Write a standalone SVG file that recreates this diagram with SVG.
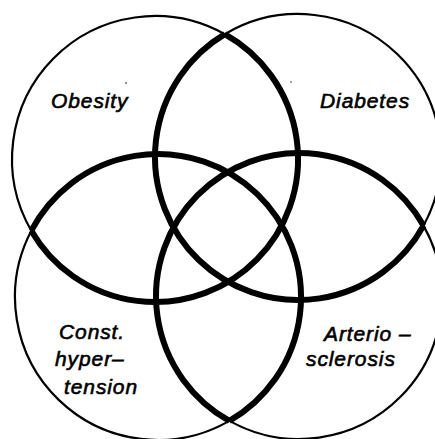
<svg xmlns="http://www.w3.org/2000/svg" width="435" height="439" viewBox="0 0 435 439">
<style>
.thin{fill:none;stroke:#000;stroke-width:2.2}
.thick{fill:none;stroke:#000;stroke-width:6}
.lbl{font-family:"Liberation Sans",Arial,sans-serif;font-style:italic;font-size:21px;letter-spacing:0.9px;fill:#000;stroke:#000;stroke-width:0.6}
</style>
<rect width="435" height="439" fill="#fff"/>
<g id="obesity">
<path class="thin" d="M31.3,230.7 A143,143 0 0 1 224.8,34.2"/>
<path class="thick" d="M224.8,34.2 A143,143 0 1 1 31.3,230.7"/>
<text class="lbl" x="51" y="108">Obesity</text>
</g>
<g id="diabetes">
<path class="thin" d="M224.8,34.2 A143,143 0 0 1 423.5,225.6"/>
<path class="thick" d="M423.5,225.6 A143,143 0 1 1 224.8,34.2"/>
<text class="lbl" x="320" y="108">Diabetes</text>
</g>
<g id="arteriosclerosis">
<path class="thin" d="M423.5,225.6 A143,143 0 0 1 229.4,420.9"/>
<path class="thick" d="M229.4,420.9 A143,143 0 1 1 423.5,225.6"/>
<text class="lbl" x="324" y="341">Arterio –</text>
<text class="lbl" x="306" y="366">sclerosis</text>
</g>
<g id="hypertension">
<path class="thin" d="M229.4,420.9 A143,143 0 0 1 31.3,230.7"/>
<path class="thick" d="M31.3,230.7 A143,143 0 1 1 229.4,420.9"/>
<text class="lbl" x="59" y="339">Const.</text>
<text class="lbl" x="55" y="366">hyper–</text>
<text class="lbl" x="64" y="394">tension</text>
</g>
<g id="connectors"></g>
<circle cx="126" cy="83" r="0.8" fill="#000"/>
<circle cx="291" cy="82" r="0.7" fill="#000"/>
</svg>
